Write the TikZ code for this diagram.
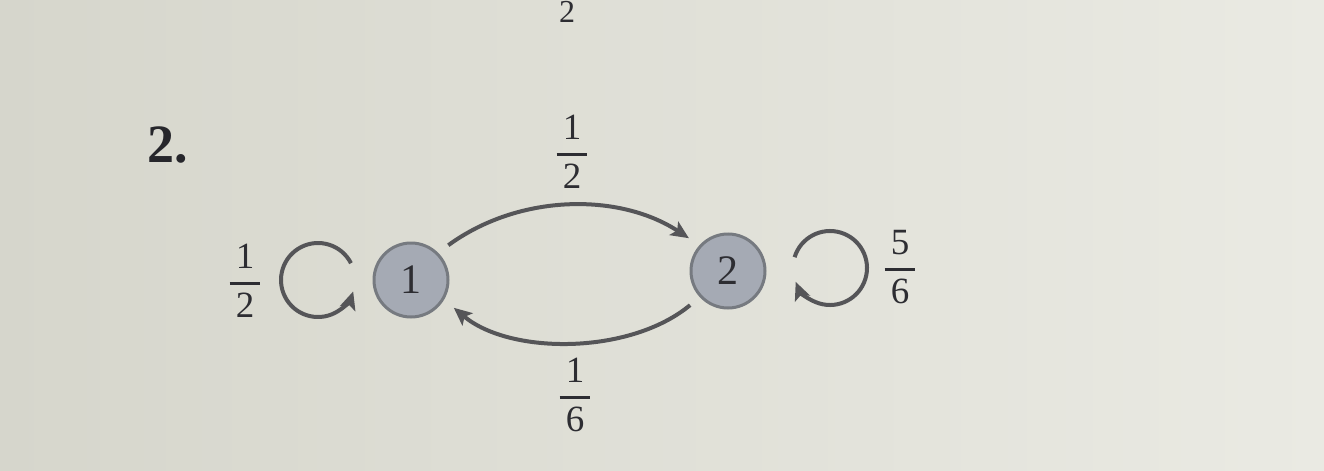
\documentclass[tikz,border=0pt]{standalone}
\usepackage{amsmath}
\usepackage{fontspec}
\setmainfont{Liberation Serif}
\usetikzlibrary{arrows.meta,calc}
\definecolor{bgL}{RGB}{214,214,204}
\definecolor{bgR}{RGB}{234,234,227}
\definecolor{ink}{RGB}{45,45,50}
\definecolor{edgecol}{RGB}{85,85,88}
\definecolor{nodefill}{RGB}{165,170,180}
\definecolor{nodeline}{RGB}{118,122,128}
\newcommand\myfr[2]{$\genfrac{}{}{1.4pt}{0}{\hbox{\,#1\,}}{\hbox{\,#2\,}}$}
\begin{document}
\begin{tikzpicture}[x=0.5pt,y=-0.5pt,
  state/.style={circle,draw=nodeline,line width=1.5pt,fill=nodefill,minimum size=37pt,inner sep=0pt,outer sep=7pt,text=ink,font=\fontsize{21}{24}\selectfont},
  lbl/.style={text=ink,font=\fontsize{18.5}{22}\selectfont,inner sep=0pt},
  edgeline/.style={draw=edgecol,line width=2pt,-{Stealth[length=9pt,width=8pt,inset=2pt]}}]
\shade[left color=bgL,right color=bgR] (0,0) rectangle (1324,471);
\useasboundingbox (0,0) rectangle (1324,471);
\node[state] (n1) at (411,280) {1};
\node[state] (n2) at (728,271) {2};
\draw[edgeline] (n1.43) .. controls (520,193) and (620,193) .. (n2.140);
\draw[edgeline] (n2.222) .. controls (630,355) and (510,355) .. (n1.327);
\coordinate (c1) at (318,280);
\coordinate (c2) at (830,268);
\draw[edgeline] ($(c1)+(27:18.5pt)$) arc[start angle=27,end angle=342,radius=18.5pt];
\draw[edgeline] ($(c2)+(163:18.5pt)$) arc[start angle=163,end angle=-158,radius=18.5pt];
\node[lbl] (l12a) at (572,152) {\myfr{1}{2}};
\node[lbl] (l16) at (575,395) {\myfr{1}{6}};
\node[lbl] (l12b) at (245,281) {\myfr{1}{2}};
\node[lbl] (l56) at (900,267) {\myfr{5}{6}};
\node[text=ink!85!black,font=\fontsize{27}{30}\selectfont\bfseries,inner sep=0pt] (num) at (168,145) {2.};
\node[text=ink,font=\fontsize{16}{18}\selectfont,inner sep=0pt,anchor=base] (top2) at (567,23) {2};
\end{tikzpicture}
\end{document}
